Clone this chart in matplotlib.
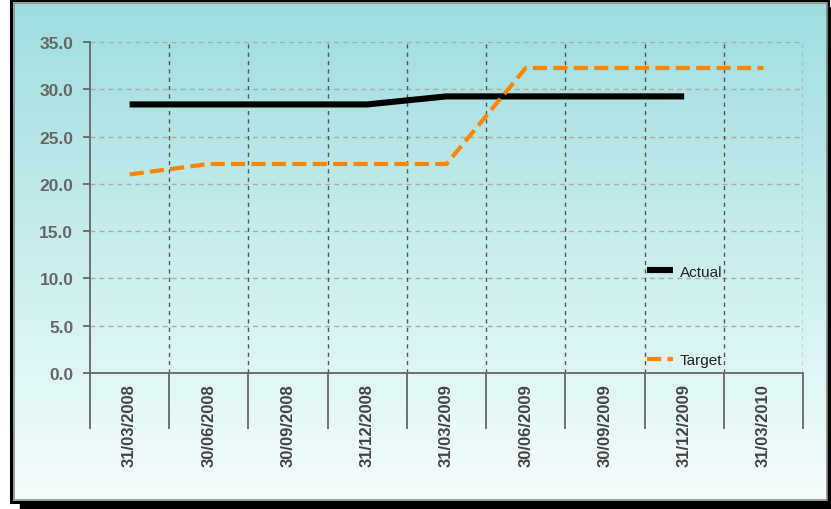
import matplotlib.pyplot as plt
import numpy as np
from matplotlib.patches import Rectangle

# quarter end dates and the two series
dates = ['31/03/2008', '30/06/2008', '30/09/2008', '31/12/2008', '31/03/2009',
         '30/06/2009', '30/09/2009', '31/12/2009', '31/03/2010']
actual = [28.4, 28.4, 28.4, 28.4, 29.25, 29.25, 29.25, 29.25]
target = [21.0, 22.1, 22.1, 22.1, 22.1, 32.25, 32.25, 32.25, 32.25]
yticks = [0, 5, 10, 15, 20, 25, 30, 35]

W, H = 831, 510
plt.rcParams['font.family'] = ['Liberation Sans', 'DejaVu Sans']

fig = plt.figure(figsize=(W / 100, H / 100), dpi=100)
fig.patch.set_facecolor('white')

# background layer in pixel coords: gradient panel + frame + shadow
bg = fig.add_axes([0, 0, 1, 1], zorder=0)
bg.set_xlim(0, W)
bg.set_ylim(H, 0)
bg.axis('off')
top = np.array([158, 221, 221]) / 255
bot = np.array([246, 253, 253]) / 255
t = np.linspace(0, 1, 256)[:, None, None]
grad = top * (1 - t) + bot * t
grad = np.repeat(grad, 2, axis=1)
bg.imshow(grad, extent=[14, 827, 501, 4], aspect='auto', interpolation='bilinear', zorder=1)
bg.add_patch(Rectangle((20, 503), W - 20, 7, color='black', zorder=2))
bg.add_patch(Rectangle((828, 8), 3, 502, color='black', zorder=2))
bg.add_patch(Rectangle((11, 1), 817, 502, fill=False, ec='black', lw=2.2, zorder=3))
bg.add_patch(Rectangle((14, 4), 813, 497, fill=False, ec='#888888', lw=1.2, zorder=3))

ax = fig.add_axes([90 / W, 1 - 374 / H, (803 - 90) / W, (374 - 43) / H], zorder=1)
ax.patch.set_alpha(0)

x = np.arange(len(dates)) + 0.5
ax.plot(x[:len(actual)], actual, color='black', lw=4.4, solid_capstyle='butt', label='Actual', zorder=4)
ax.plot(x, target, color='#ff8400', lw=3.0, dashes=(3.4, 1.5), label='Target', zorder=5)

ax.set_xlim(0, len(dates))
ax.set_ylim(0, 35)

# grid: dark dashed verticals at category edges, light dashed horizontals
for xv in range(1, len(dates) + 1):
    ax.axvline(xv, color='#555555', lw=1, dashes=(3, 3), zorder=2)
for yv in yticks[1:]:
    ax.axhline(yv, color='#aaaaaa', lw=1, dashes=(3.5, 3), zorder=1)

for s in ['top', 'right']:
    ax.spines[s].set_visible(False)
for s in ['left', 'bottom']:
    ax.spines[s].set_color('#666666')
    ax.spines[s].set_linewidth(1.3)

ax.set_yticks(yticks)
ax.set_yticklabels([f'{v:.1f}' for v in yticks], fontsize=12.5, fontweight='bold', color='#666666')
ax.tick_params(axis='y', length=5, width=1.3, color='#666666', pad=7)

ax.set_xticks(range(len(dates) + 1))
ax.set_xticklabels([])
ax.tick_params(axis='x', length=40, width=1.3, color='#666666')

xt = ax.get_xaxis_transform()
for xi, lab in zip(x, dates):
    ax.text(xi, -0.03, lab, transform=xt, rotation=90, ha='center', va='top',
            fontsize=12, fontweight='bold', color='#444444')

leg = ax.legend(loc='upper left', bbox_to_anchor=(639 / W, 1 - 258 / H),
                bbox_transform=fig.transFigure, frameon=False, fontsize=11,
                handlelength=1.7, handletextpad=0.45, labelspacing=4.9, borderpad=0)
for txt in leg.get_texts():
    txt.set_color('#222222')

fig.savefig('out.png', dpi=100)
